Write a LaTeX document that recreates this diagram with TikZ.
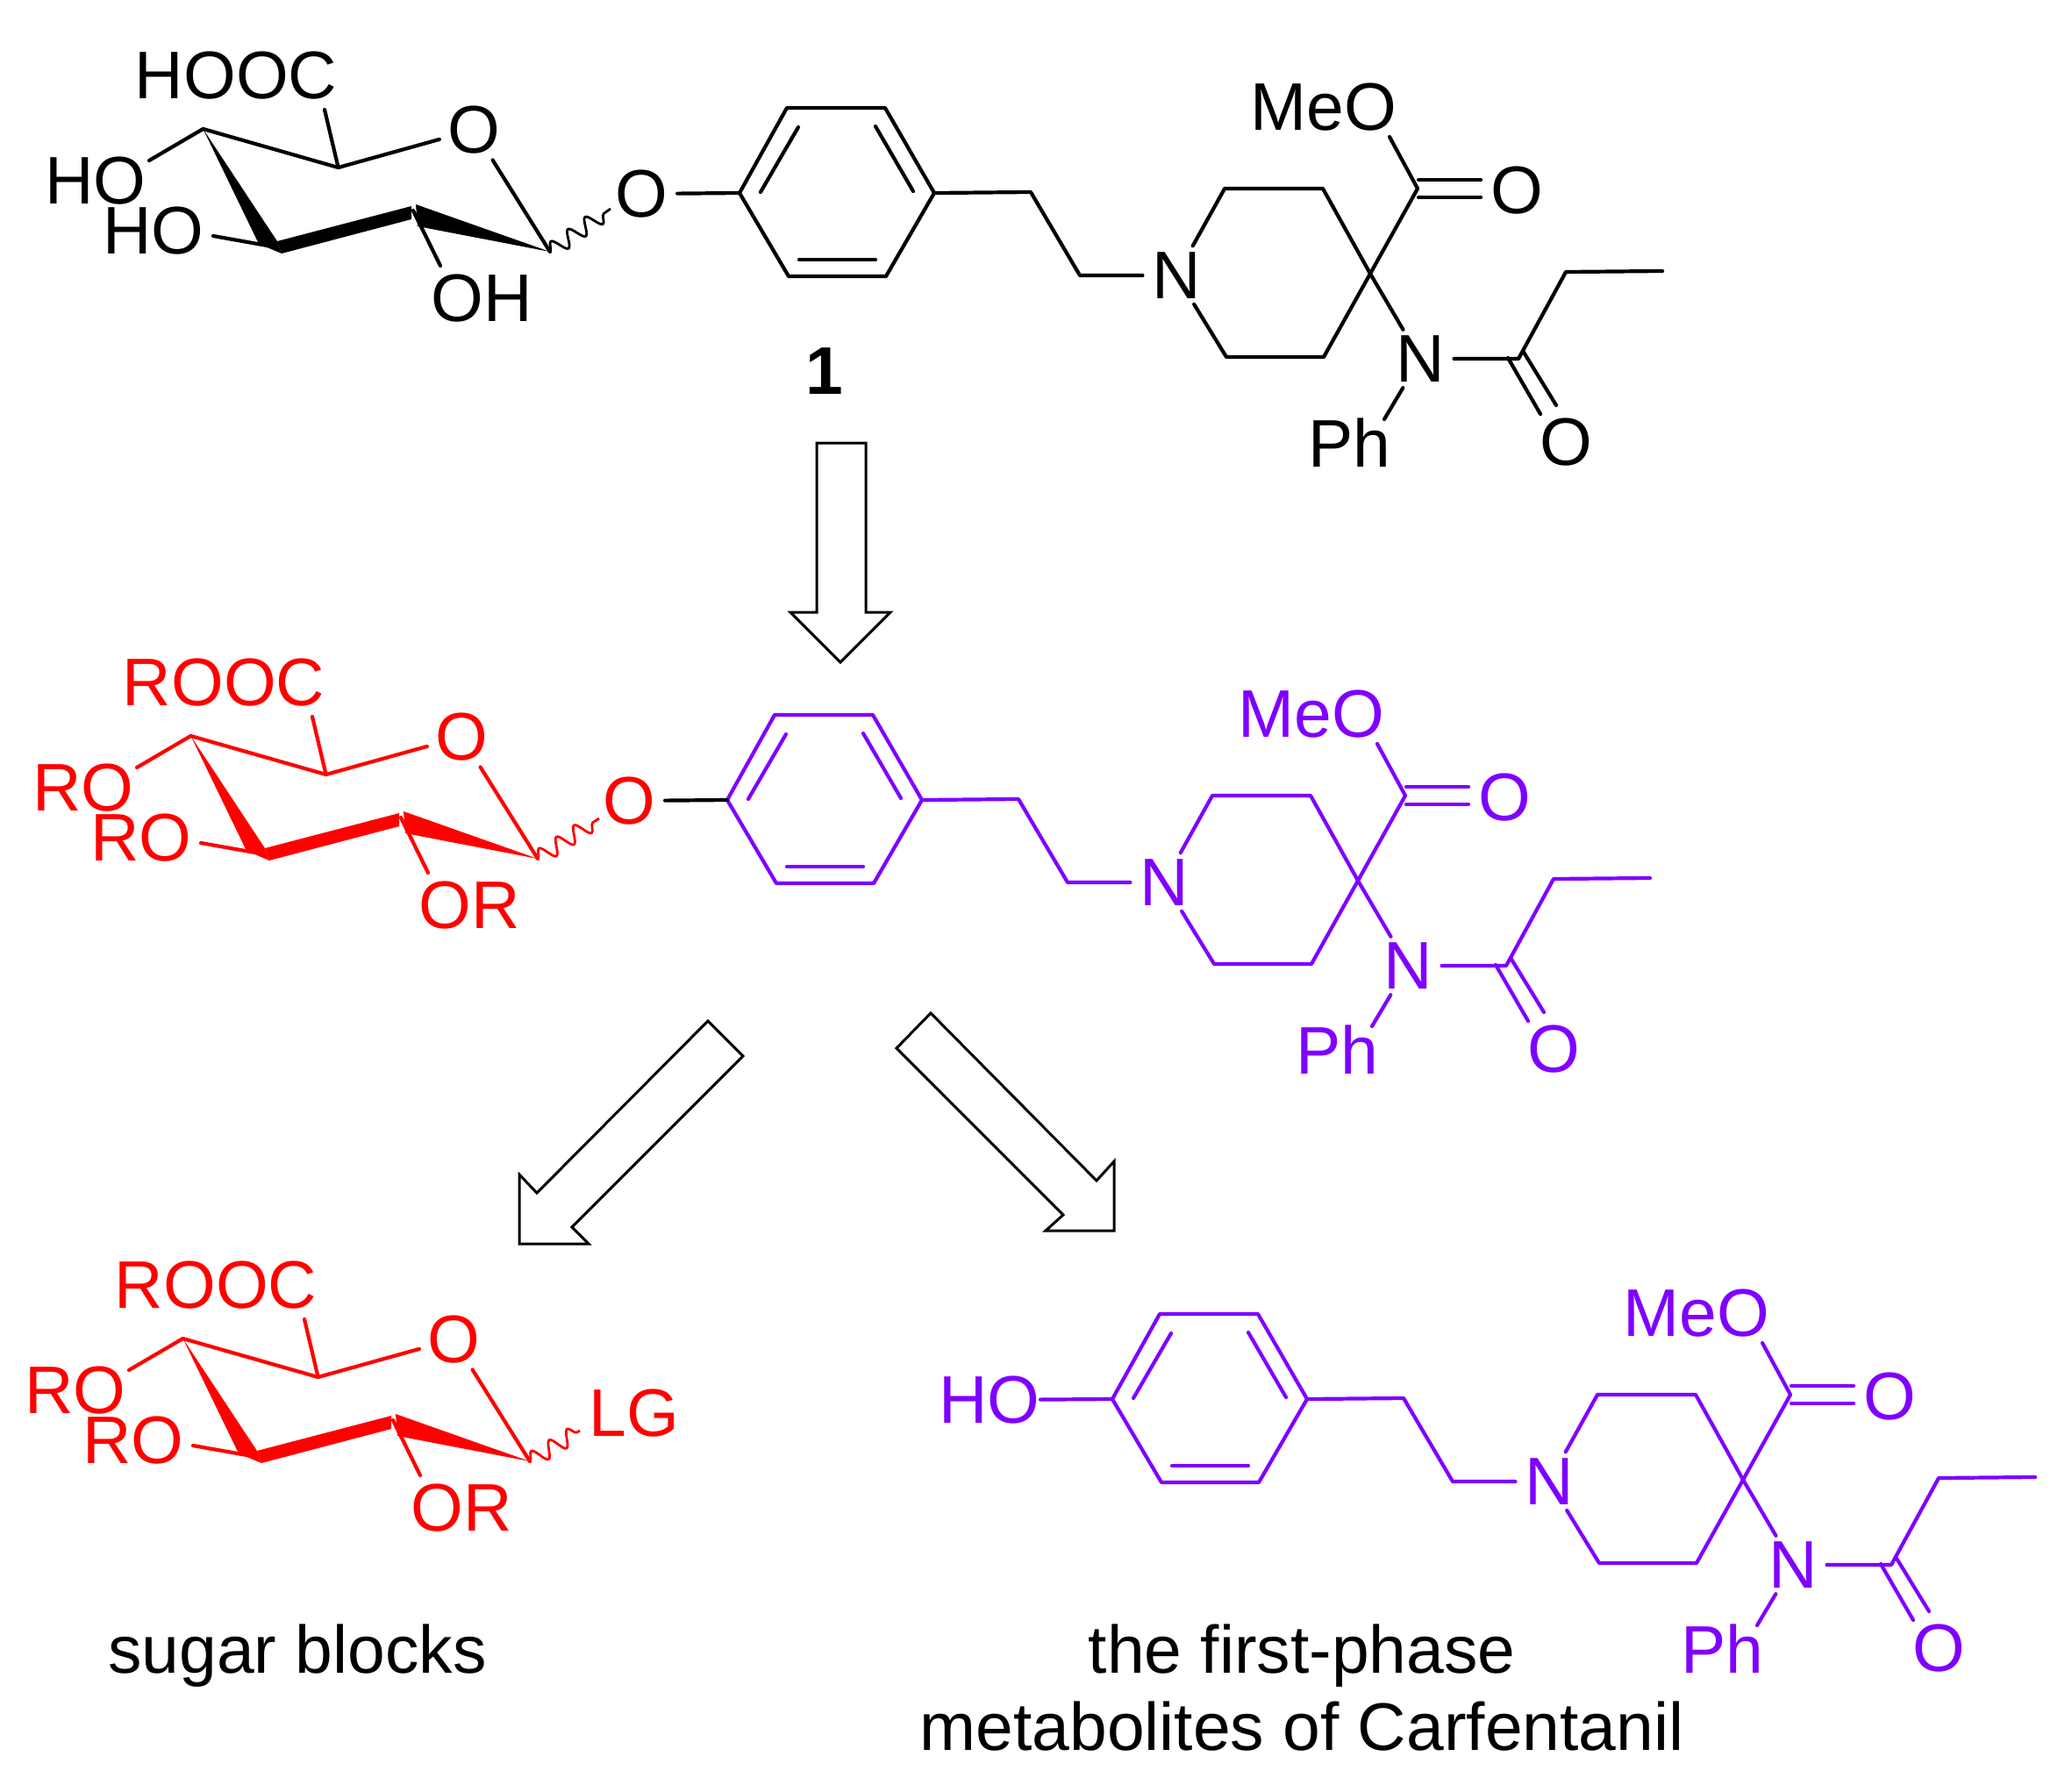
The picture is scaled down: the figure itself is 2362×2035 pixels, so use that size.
\documentclass[tikz,border=0pt]{standalone}
\usepackage{fontspec}
\setmainfont{Liberation Sans}
\usetikzlibrary{decorations.pathmorphing}
\definecolor{vio}{HTML}{7F00FF}
\tikzset{
  bond/.style={line width=2.1pt,line cap=round,line join=round},
  wave/.style={line width=1.4pt,decorate,decoration={snake,segment length=12pt,amplitude=4.6pt}},
  lab/.style={font=\fontsize{38.4}{40}\selectfont,inner sep=0pt},
  atom/.style={lab,circle},
  captext/.style={lab,anchor=base,text=black},
  bigarrow/.style={draw=black,line width=1.5pt,fill=white,line join=miter},
}
% sugar: #1 shift x, #2 shift y, #3 prefix, #4 colour, #5 acid, #6 left label, #7 right label
\newcommand{\sugarunit}[7]{%
\begin{scope}[shift={(#1,#2)},name prefix=#3-,color=#4]
  \coordinate (c5) at (231.5,147);
  \coordinate (c6) at (385.6,191);
  \coordinate (c1) at (627,287);
  \coordinate (c2) at (471,240);
  \coordinate (c3) at (316,282);
  \coordinate (w1) at (295,278);
  \coordinate (w2) at (316,275);
  \coordinate (w3) at (321,289);
  \coordinate (w4) at (469,250);
  \coordinate (w5) at (469,235);
  \coordinate (w6) at (476,258);
  \coordinate (w7) at (474,233);
  \coordinate (e1) at (370,125);
  \coordinate (e2) at (170,183);
  \coordinate (e3) at (243,269);
  \coordinate (e4) at (502,303);
  \node[lab] (acid) at (269,86) {#5};
  \node[lab] (lefta) at (109,206) {#6};
  \node[lab] (leftb) at (175,263) {#6};
  \node[lab] (right) at (549,340) {#7};
  \node[atom] (oring) at (540,148) {O};
  \fill (c5) -- (w1) -- (w3) -- (w2) -- cycle;
  \fill (w2) -- (w3) -- (w4) -- (w5) -- cycle;
  \fill (w7) -- (w6) -- (c1) -- cycle;
  \draw[bond] (c5) -- (c6);
  \draw[bond] (c6) -- (oring);
  \draw[bond] (oring) -- (c1);
  \draw[bond] (c6) -- (e1);
  \draw[bond] (c5) -- (e2);
  \draw[bond] (c3) -- (e3);
  \draw[bond] (c2) -- (e4);
\end{scope}}
% phenethyl piperidine: #1 shift x, #2 shift y, #3 prefix, #4 colour
\newcommand{\linkerunit}[4]{%
\begin{scope}[shift={(#1,#2)},name prefix=#3-,color=#4]
  \coordinate (r1) at (843,220);
  \coordinate (r2) at (897,123);
  \coordinate (r3) at (1009,123);
  \coordinate (r4) at (1065,220);
  \coordinate (r5) at (1010,315);
  \coordinate (r6) at (899,315);
  \coordinate (i1a) at (867,219);
  \coordinate (i1b) at (910,145);
  \coordinate (i2a) at (998,144);
  \coordinate (i2b) at (1041,218);
  \coordinate (i3a) at (911,296);
  \coordinate (i3b) at (998,296);
  \coordinate (ch1) at (1175,219);
  \coordinate (ch2) at (1231,314);
  \coordinate (p1) at (1396,215);
  \coordinate (p2) at (1508,215);
  \coordinate (q) at (1562,312);
  \coordinate (p3) at (1509,407);
  \coordinate (p4) at (1398,407);
  \coordinate (est) at (1616,215);
  \coordinate (meoe) at (1584,156);
  \coordinate (d1a) at (1617,205);
  \coordinate (d1b) at (1688,205);
  \coordinate (d2a) at (1617,225);
  \coordinate (d2b) at (1688,225);
  \coordinate (am) at (1731,409);
  \coordinate (et1) at (1785,310);
  \coordinate (et2) at (1895,309);
  \coordinate (d3a) at (1719,408);
  \coordinate (d3b) at (1756,472);
  \coordinate (d4a) at (1736,400);
  \coordinate (d4b) at (1774,462);
  \coordinate (phe) at (1578,478);
  \node[atom] (n1) at (1341,314) {N};
  \node[atom] (n2) at (1619,409) {N};
  \node[lab] (meo) at (1509,122) {MeO};
  \node[atom] (oe) at (1729,217) {O};
  \node[atom] (oa) at (1785,504) {O};
  \node[lab] (ph) at (1538,505) {Ph};
  \draw[bond] (r1) -- (r2) -- (r3) -- (r4) -- (r5) -- (r6) -- cycle;
  \draw[bond] (i1a) -- (i1b);
  \draw[bond] (i2a) -- (i2b);
  \draw[bond] (i3a) -- (i3b);
  \draw[bond] (r4) -- (ch1) -- (ch2) -- (n1);
  \draw[bond] (n1) -- (p1) -- (p2) -- (q) -- (p3) -- (p4) -- (n1);
  \draw[bond] (q) -- (est) -- (meoe);
  \draw[bond] (d1a) -- (d1b);
  \draw[bond] (d2a) -- (d2b);
  \draw[bond] (q) -- (n2);
  \draw[bond] (n2) -- (am) -- (et1) -- (et2);
  \draw[bond] (d3a) -- (d3b);
  \draw[bond] (d4a) -- (d4b);
  \draw[bond] (n2) -- (phe);
\end{scope}}
\begin{document}
\begin{tikzpicture}[x=0.5pt,y=-0.5pt]
  \useasboundingbox[fill=white] (0,0) rectangle (2362,2035);

  % top molecule
  \sugarunit{0}{0}{sa}{black}{HOOC}{HO}{OH}
  \linkerunit{0}{0}{la}{black}
  \node[atom] (oa) at (731.5,221) {O};
  \coordinate (wa) at (696,238);
  \draw[wave] (sa-c1) -- (wa);
  \draw[bond] (oa) -- (la-r1);
  \node[lab,font=\fontsize{38.4}{40}\selectfont\bfseries] (one) at (940,423) {1};

  % arrow 1
  \draw[bigarrow] (931,505) -- (987,505) -- (987,698) -- (1015,698) -- (958,755) -- (901,698) -- (931,698) -- cycle;

  % middle molecule
  \sugarunit{-14}{692}{sb}{red}{ROOC}{RO}{OR}
  \linkerunit{-14}{692}{lb}{vio}
  \node[atom,text=red] (ob) at (717.5,913) {O};
  \coordinate (wb) at (683,933);
  \draw[wave,red] (sb-c1) -- (wb);
  \draw[bond,black] (ob) -- (lb-r1);

  % arrows 2 and 3
  \draw[bigarrow] (807,1164) -- (847,1204) -- (652,1399) -- (671,1418) -- (592,1418) -- (592,1339) -- (612,1360) -- cycle;
  \draw[bigarrow] (1061,1155) -- (1022,1195) -- (1212,1385) -- (1192,1403) -- (1270,1403) -- (1270,1324) -- (1250,1346) -- cycle;

  % bottom left: sugar block
  \sugarunit{-23}{1379}{sc}{red}{ROOC}{RO}{OR}
  \node[lab,text=red] (lg) at (723,1611) {LG};
  \coordinate (wc) at (661,1631);
  \draw[wave,red] (sc-c1) -- (wc);

  % bottom right: metabolite
  \linkerunit{425}{1375}{ld}{vio}
  \node[lab,text=vio] (ho) at (1128,1596) {HO};
  \draw[bond,vio] (ho) -- (ld-r1);

  % captions
  \node[captext] (t1) at (339,1907) {sugar blocks};
  \node[captext] (t2) at (1484,1907) {the first-phase};
  \node[captext] (t3) at (1484,1995) {metabolites of Carfentanil};
\end{tikzpicture}
\end{document}
